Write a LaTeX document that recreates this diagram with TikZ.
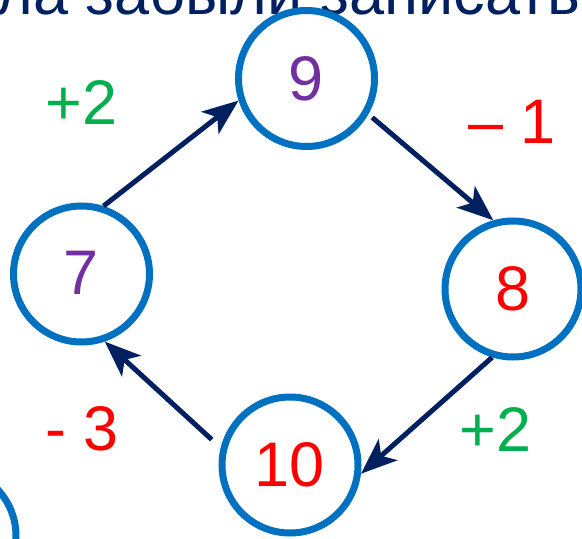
\documentclass[tikz,border=0pt]{standalone}
\usepackage{fontspec}
\setmainfont{Liberation Sans}
\usetikzlibrary{arrows.meta}
\definecolor{navy}{HTML}{002060}
\definecolor{ringblue}{HTML}{0070C0}
\definecolor{okgreen}{HTML}{00B050}
\definecolor{hotred}{HTML}{FF0000}
\definecolor{violet}{HTML}{7030A0}
\tikzset{
  ring/.style={circle, draw=ringblue, line width=3.5pt, minimum size=68pt, inner sep=0pt,
    font=\fontsize{31.5}{38}\selectfont},
  arr/.style={draw=navy, line width=2.5pt, -{Stealth[length=18pt,width=14pt,inset=4.5pt]}},
  lbl/.style={font=\fontsize{31.5}{38}\selectfont, inner sep=0pt, anchor=base west},
}
\begin{document}
\begin{tikzpicture}[x=0.5pt,y=-0.5pt]
\useasboundingbox (0,0) rectangle (582,539);
\clip (0,0) rectangle (582,539);
\node[font=\fontsize{31.5}{38}\selectfont, text=navy, inner sep=0pt, anchor=base west] (title) at (-4,15) {ла забыли записать};
\node[ring, text=violet] (n9) at (306.5,78.5) {9};
\node[ring, text=violet] (n7) at (81.5,274) {\raisebox{1.25pt}{7}};
\node[ring, text=hotred] (n8) at (513,289) {\raisebox{-4.5pt}{8}};
\node[ring, text=hotred] (n10) at (290,465) {10};
\node[ring] (nx) at (-52,536) {};
\draw[arr] (n7.72.7) -- (n9.198.9);
\draw[arr, shorten <=2.5pt] (n9.330) -- (n8.106.2);
\draw[arr] (n8.253.6) -- (n10.353.5);
\draw[arr, shorten <=6pt] (n10.166.3) -- (n7.289.1);
\node[lbl, text=okgreen] (l1) at (45,125) {+2};
\node[lbl, text=hotred] (l2) at (468,144) {–\ 1};
\node[lbl, text=okgreen] (l3) at (459,451) {+2};
\node[lbl, text=hotred] (l4) at (45,450) {-\ 3};
\end{tikzpicture}
\end{document}
